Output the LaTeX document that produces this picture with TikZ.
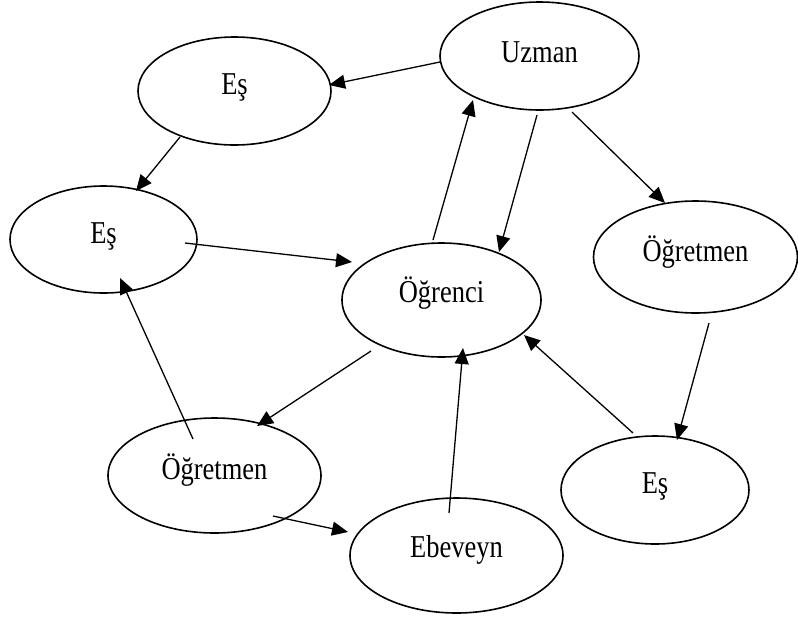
\documentclass[tikz,border=0pt]{standalone}
\usepackage{fontspec}
\setmainfont{Liberation Serif}
\usetikzlibrary{shapes.geometric,arrows.meta,calc}
\begin{document}
\begin{tikzpicture}[x=1pt,y=1pt,
  ell/.style={draw, ellipse, line width=1.6pt, inner sep=0pt},
  lab/.style={anchor=base, inner sep=0pt, yscale=1.2, transform shape, font=\fontsize{26.5}{30}\selectfont},
  arr/.style={line width=1.3pt, -{Triangle[length=16pt,width=14pt]}}]
\useasboundingbox (0,0) rectangle (798,-619);
\node[ell, minimum width=193, minimum height=108, label={[lab,yshift=2.7]center:Eş}] (es1) at (234.5,-91) {};
\node[ell, minimum width=187, minimum height=107, label={[lab,yshift=2.5]center:Eş}] (es2) at (103.5,-239.5) {};
\node[ell, minimum width=199, minimum height=108, label={[lab,yshift=3]center:Uzman}] (uz) at (539.5,-56) {};
\node[ell, minimum width=204, minimum height=112, label={[lab,yshift=4.3]center:Öğretmen}] (ogr) at (695.5,-257) {};
\node[ell, minimum width=199, minimum height=114, label={[lab,yshift=6]center:Öğrenci}] (oc) at (441.5,-300) {};
\node[ell, minimum width=213, minimum height=115, label={[lab,yshift=4.8]center:Öğretmen}] (ogl) at (214.5,-475.5) {};
\node[ell, minimum width=213, minimum height=115, label={[lab,yshift=4.8]center:Ebeveyn}] (eb) at (456.5,-555.5) {};
\node[ell, minimum width=188, minimum height=108, label={[lab,yshift=3.3]center:Eş}] (es3) at (655,-490) {};
\draw[arr] ($(uz.center)+(-99.5,-6)$) -- ($(es1.center)+(94.5,6)$);
\draw[arr] ($(es1.center)+(-54.5,-46)$) -- ($(es2.center)+(32.5,48.5)$);
\draw[arr] ($(es2.center)+(81.5,-3.5)$) -- ($(oc.center)+(-89.5,38)$);
\draw[arr] ($(oc.center)+(-8.5,60)$) -- ($(uz.center)+(-66.5,-44)$);
\draw[arr] ($(uz.center)+(-2.5,-59)$) -- ($(oc.center)+(57.5,48)$);
\draw[arr] ($(uz.center)+(32.5,-56)$) -- ($(ogr.center)+(-30.5,54)$);
\draw[arr] ($(ogr.center)+(13.5,-66)$) -- ($(es3.center)+(22,50)$);
\draw[arr] ($(es3.center)+(-22,57)$) -- ($(oc.center)+(82.5,-35)$);
\draw[arr] ($(eb.center)+(-7.5,42.5)$) -- ($(oc.center)+(21.5,-48)$);
\draw[arr] ($(oc.center)+(-70.5,-51)$) -- ($(ogl.center)+(42.5,49.5)$);
\draw[arr] ($(ogl.center)+(-21.5,36.5)$) -- ($(es2.center)+(16.5,-38.5)$);
\draw[arr] ($(ogl.center)+(58.5,-40.5)$) -- ($(eb.center)+(-108.5,23.5)$);
\end{tikzpicture}
\end{document}
